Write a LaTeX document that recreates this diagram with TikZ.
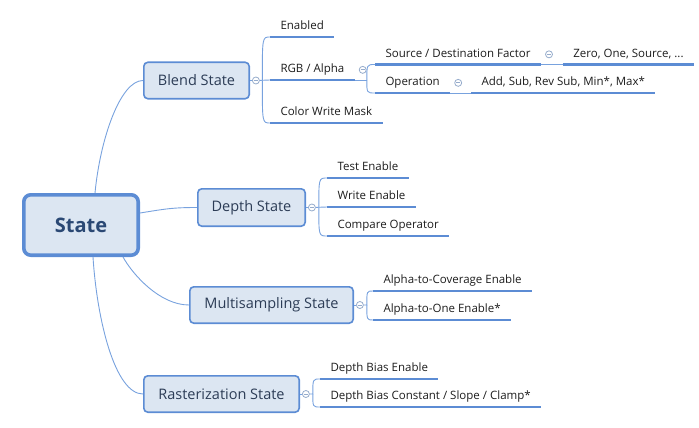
\documentclass[tikz,border=0pt]{standalone}
\usepackage{fontspec}
\setmainfont{Open Sans}
\usetikzlibrary{positioning}
\definecolor{mapFill}{RGB}{220,230,242}
\definecolor{mapLine}{RGB}{92,140,212}
\definecolor{mapLink}{RGB}{120,162,222}
\definecolor{knobLine}{RGB}{150,172,204}
\definecolor{mapInk}{RGB}{44,60,86}
\definecolor{rootInk}{RGB}{42,72,116}
\definecolor{leafInk}{RGB}{28,28,28}
\tikzset{
  rootbox/.style={draw=mapLine, line width=3.6pt, rounded corners=7pt, fill=mapFill, text=rootInk, minimum width=114.4pt, minimum height=60.4pt, font=\fontsize{20}{24}\selectfont\bfseries, anchor=west},
  mapbox/.style={draw=mapLine, line width=1.6pt, rounded corners=4pt, fill=mapFill, text=mapInk, minimum height=36.4pt, font=\fontsize{14.5}{17}\selectfont, anchor=west},
  knob/.style={circle, draw=knobLine, fill=white, line width=0.8pt, inner sep=0pt, minimum size=7pt,
    path picture={\draw[knobLine, line width=0.8pt] ([xshift=-2pt]path picture bounding box.center) -- ([xshift=2pt]path picture bounding box.center);}},
  underline/.style={draw=mapLine, line width=2.6pt},
  leaf/.style={anchor=south west, inner xsep=10.5pt, inner ysep=4.5pt, outer sep=0pt, text height=8.5pt, text depth=2.8pt, font=\fontsize{11.5}{14}\selectfont, text=leafInk,
    append after command={(\tikzlastnode.south west) edge[underline] (\tikzlastnode.south east)}},
  link/.style={draw=mapLink, line width=0.9pt},
  bendto/.style={to path={.. controls (\tikztostart |- \tikztotarget) and (\tikztostart |- \tikztotarget) .. (\tikztotarget)}}
}
\begin{document}
\begin{tikzpicture}[x=1pt, y=-1pt]
    \useasboundingbox (0,0) rectangle (699,428);
    \node[rootbox] (state) at (22,225) {State};
    \node[mapbox, minimum width=105.4pt] (blend) at (143,80.5) {Blend State};
    \node[mapbox, minimum width=107.4pt, minimum height=37.4pt] (depth) at (197,207.5) {Depth State};
    \node[mapbox, minimum width=163.4pt] (multi) at (189,305) {Multisampling State};
    \node[mapbox, minimum width=155.4pt] (raster) at (143,394) {Rasterization State};
    \draw[link] ([xshift=14pt]state.north) .. controls +(5,-53) and +(-23,0) .. (blend.west);
    \draw[link] ([yshift=12pt]state.east) .. controls +(25,-4) and +(-25,0) .. (depth.west);
    \draw[link] ([xshift=-17pt]state.south east) .. controls +(10,18) and +(-29,0) .. (multi.west);
    \draw[link] ([xshift=12pt]state.south) .. controls +(4,63) and +(-28,0) .. (raster.west);

    \node[knob, right=2pt of blend] (kblend) {};
    \coordinate (tblend) at ([xshift=2.5pt]kblend.east);
    \node[leaf] (enab) at (270,37) {Enabled};
    \node[leaf] (rgba) at (270,80) {RGB / Alpha};
    \node[leaf] (cwm) at (270,123) {Color Write Mask};
    \draw[link] (blend) -- (kblend);
    \draw[link] (kblend) -- (rgba.south west);
    \draw[link] (tblend) to[bendto] (enab.south west);
    \draw[link] (tblend) to[bendto] (cwm.south west);

    \node[knob, right=4pt of rgba] (krgba) {};
    \coordinate (trgba) at ([xshift=12pt]rgba.south east);
    \node[leaf] (srcdst) at (375,64.5) {Source / Destination Factor};
    \node[leaf] (oper) at (375,93) {Operation};
    \node[knob, right=4pt of srcdst] (ksrc) {};
    \node[leaf, right=10pt of ksrc] (zero) {Zero, One, Source, ...};
    \node[knob, right=4pt of oper] (koper) {};
    \node[leaf, right=9pt of koper] (addsub) {Add, Sub, Rev Sub, Min*, Max*};
    \draw[link] (rgba.south east) -- (trgba);
    \draw[link] (trgba) to[bendto] (srcdst.south west);
    \draw[link] (trgba) to[bendto] (oper.south west);
    \draw[link] (srcdst.south east) -- (zero.south west);
    \draw[link] (oper.south east) -- (addsub.south west);

    \node[knob, right=2pt of depth] (kdepth) {};
    \coordinate (tdepth) at ([xshift=3pt]kdepth.east);
    \node[leaf] (testen) at (327,178) {Test Enable};
    \node[leaf] (writeen) at (327,207) {Write Enable};
    \node[leaf] (cmpop) at (327,236) {Compare Operator};
    \draw[link] (depth) -- (kdepth);
    \draw[link] (kdepth) -- (writeen.south west);
    \draw[link] (tdepth) to[bendto] (testen.south west);
    \draw[link] (tdepth) to[bendto] (cmpop.south west);

    \node[knob, right=2pt of multi] (kmulti) {};
    \coordinate (tmulti) at ([xshift=3pt]kmulti.east);
    \node[leaf] (a2c) at (373,291) {Alpha-to-Coverage Enable};
    \node[leaf] (a2o) at (373,320) {Alpha-to-One Enable*};
    \draw[link] (multi) -- (kmulti);
    \draw[link] (kmulti) -- (tmulti) to[bendto] (a2c.south west);
    \draw[link] (tmulti) to[bendto] (a2o.south west);

    \node[knob, right=2pt of raster] (kraster) {};
    \coordinate (traster) at ([xshift=3pt]kraster.east);
    \node[leaf] (dben) at (320,379) {Depth Bias Enable};
    \node[leaf] (dbcsc) at (320,407) {Depth Bias Constant / Slope / Clamp*};
    \draw[link] (raster) -- (kraster);
    \draw[link] (kraster) -- (traster) to[bendto] (dben.south west);
    \draw[link] (traster) to[bendto] (dbcsc.south west);
\end{tikzpicture}
\end{document}
